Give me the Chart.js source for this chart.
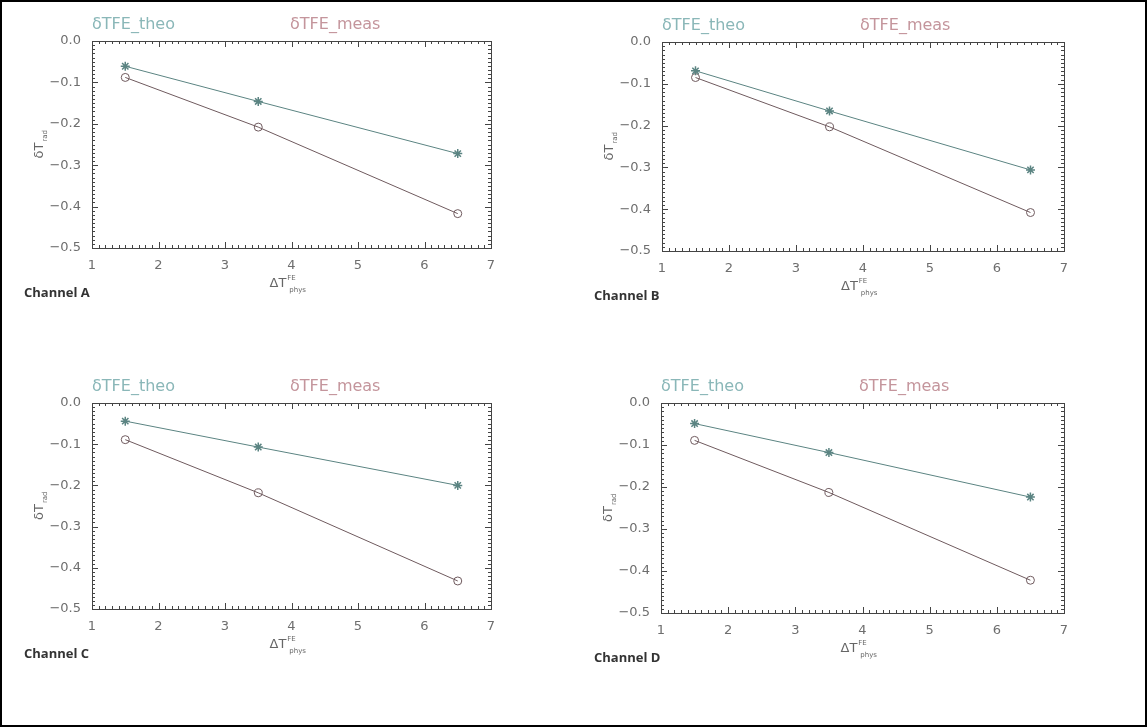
<!DOCTYPE html>
<html>
<head>
<meta charset="utf-8">
<script src="https://cdn.jsdelivr.net/npm/chart.js@4"></script>
<style>
  html, body { margin: 0; padding: 0; background: #fff; }
  #frame { position: relative; width: 1147px; height: 727px; box-sizing: border-box; border: 2px solid #000; overflow: hidden; }
  canvas { position: absolute; }
</style>
</head>
<body>
<div id="frame">
  <canvas id="cA"></canvas>
  <canvas id="cB"></canvas>
  <canvas id="cC"></canvas>
  <canvas id="cD"></canvas>
</div>
<script>
// data
const channels = ['A', 'B', 'C', 'D'];
const xVals = [1.5, 3.5, 6.5];
const theoA = [-0.061, -0.146, -0.272];
const measA = [-0.088, -0.208, -0.417];
const theoB = [-0.069, -0.165, -0.306];
const measB = [-0.085, -0.203, -0.408];
const theoC = [-0.044, -0.107, -0.200];
const measC = [-0.089, -0.218, -0.432];
const theoD = [-0.049, -0.118, -0.224];
const measD = [-0.089, -0.213, -0.422];
const theoLabel = 'δTFE_theo';
const measLabel = 'δTFE_meas';

const theoSets = [theoA, theoB, theoC, theoD];
const measSets = [measA, measB, measC, measD];

// layout of each panel (canvas offset + plot box inside canvas)
const panelW = 573, panelH = 363;
const layout = [
  { x: 0,   y: 0,   l: 90, r: 489, t: 39, b: 246 },
  { x: 573, y: 0,   l: 87, r: 489, t: 40, b: 249 },
  { x: 0,   y: 363, l: 90, r: 489, t: 38, b: 244 },
  { x: 573, y: 363, l: 86, r: 489, t: 38, b: 248 }
];

const theoLine = '#5b8482';
const measLine = '#6f5a5e';
const tickText = '#6e6e6e';

function fmt(v) {
  const s = Math.abs(v).toFixed(1);
  return v < -1e-9 ? '\u2212' + s : s;
}

// box, inward ticks on all sides, titles and labels
const idlFrame = {
  id: 'idlFrame',
  afterDraw(chart, args, opts) {
    const ctx = chart.ctx;
    const a = chart.chartArea;
    const xs = chart.scales.x, ys = chart.scales.y;
    ctx.save();
    ctx.strokeStyle = '#444';
    ctx.lineWidth = 1;
    ctx.strokeRect(a.left + 0.5, a.top + 0.5, a.right - a.left, a.bottom - a.top);
    ctx.beginPath();
    for (let i = 0; i <= 60; i++) {
      const v = 1 + i / 10;
      const px = Math.round(xs.getPixelForValue(v)) + 0.5;
      const len = i % 10 === 0 ? 6 : 3;
      ctx.moveTo(px, a.bottom); ctx.lineTo(px, a.bottom - len);
      ctx.moveTo(px, a.top); ctx.lineTo(px, a.top + len);
    }
    for (let i = 0; i <= 50; i++) {
      const v = -i / 100;
      const py = Math.round(ys.getPixelForValue(v)) + 0.5;
      const len = i % 10 === 0 ? 6 : 3;
      ctx.moveTo(a.left, py); ctx.lineTo(a.left + len, py);
      ctx.moveTo(a.right, py); ctx.lineTo(a.right - len, py);
    }
    ctx.stroke();

    // legend texts
    ctx.font = '16px "DejaVu Sans"';
    ctx.textBaseline = 'middle';
    ctx.textAlign = 'left';
    ctx.fillStyle = '#8ab7b8';
    ctx.fillText(theoLabel, a.left, a.top - 16);
    ctx.fillStyle = '#c4959c';
    ctx.fillText(measLabel, a.left + 198, a.top - 16);

    // x title: ΔT^FE_phys
    const cx = (a.left + a.right) / 2;
    const ty = a.bottom + 36;
    ctx.fillStyle = '#666';
    ctx.font = '13px "DejaVu Sans"';
    const w1 = ctx.measureText('ΔT').width;
    ctx.fillText('ΔT', cx - 22, ty);
    ctx.font = '7px "DejaVu Sans"';
    ctx.fillText('FE', cx - 22 + w1 + 1, ty - 6);
    ctx.fillText('phys', cx - 22 + w1 + 3, ty + 6);

    // y title: δT_rad rotated
    ctx.save();
    ctx.translate(a.left - 52, (a.top + a.bottom) / 2 + 2);
    ctx.rotate(-Math.PI / 2);
    ctx.font = '13px "DejaVu Sans"';
    const w2 = ctx.measureText('δT').width;
    ctx.fillText('δT', -12, 0);
    ctx.font = '7px "DejaVu Sans"';
    ctx.fillText('rad', -12 + w2 + 1, 5);
    ctx.restore();

    // channel label
    ctx.fillStyle = '#333';
    ctx.font = 'bold 13px "Open Sans"';
    ctx.fillText('Channel ' + opts.name, opts.labelX, a.bottom + 45);
    ctx.restore();
  }
};

channels.forEach(function(name, i) {
  const L = layout[i];
  const cv = document.getElementById('c' + name);
  cv.width = panelW; cv.height = panelH;
  cv.style.left = L.x + 'px';
  cv.style.top = L.y + 'px';
  cv.style.width = panelW + 'px';
  cv.style.height = panelH + 'px';

  new Chart(cv, {
    type: 'scatter',
    data: {
      datasets: [{
        label: theoLabel,
        data: xVals.map((x, k) => ({ x: x, y: theoSets[i][k] })),
        showLine: true,
        borderColor: theoLine,
        borderWidth: 1,
        pointStyle: 'star',
        pointRadius: 4.5,
        pointBorderColor: theoLine,
        pointBorderWidth: 1.5,
        pointBackgroundColor: theoLine
      }, {
        label: measLabel,
        data: xVals.map((x, k) => ({ x: x, y: measSets[i][k] })),
        showLine: true,
        borderColor: measLine,
        borderWidth: 1,
        pointStyle: 'circle',
        pointRadius: 4,
        pointBorderColor: measLine,
        pointBorderWidth: 1,
        pointBackgroundColor: 'rgba(255,255,255,0)'
      }]
    },
    options: {
      responsive: false,
      animation: false,
      devicePixelRatio: 1,
      layout: {
        autoPadding: false,
        padding: { left: 0, top: L.t, right: panelW - L.r, bottom: 0 }
      },
      plugins: {
        legend: { display: false },
        tooltip: { enabled: false },
        idlFrame: { name: name, labelX: i % 2 === 0 ? 22 : 19 }
      },
      scales: {
        x: {
          type: 'linear',
          min: 1, max: 7,
          grid: { display: false, drawTicks: false },
          border: { display: false },
          ticks: { stepSize: 1, padding: 10, color: tickText, font: { family: 'DejaVu Sans', size: 13 } },
          afterFit: function(s) { s.height = panelH - L.b; }
        },
        y: {
          min: -0.5, max: 0,
          grid: { display: false, drawTicks: false },
          border: { display: false },
          ticks: { stepSize: 0.1, padding: 11, color: tickText, font: { family: 'DejaVu Sans', size: 13 }, callback: fmt },
          afterFit: function(s) { s.width = L.l; }
        }
      }
    },
    plugins: [idlFrame]
  });
});
</script>
</body>
</html>
